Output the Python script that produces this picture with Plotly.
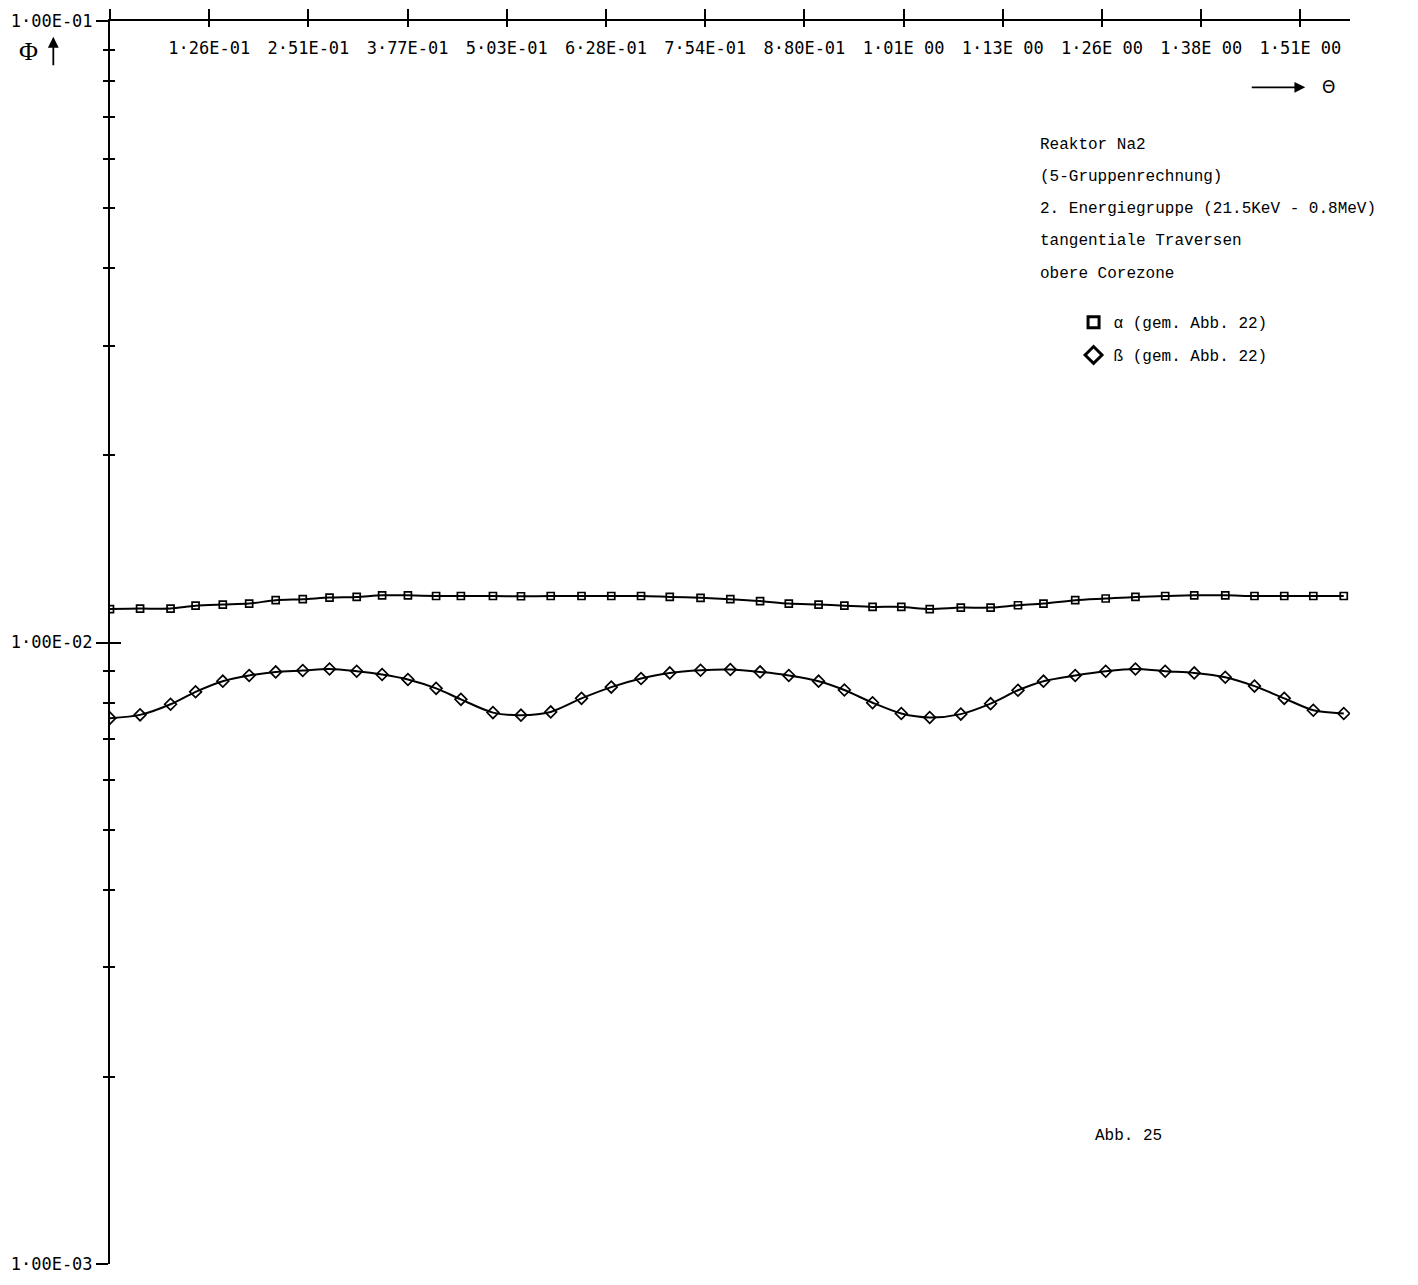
import math
import plotly.graph_objects as go

# ---------------- data ----------------
theta = [0.0, 0.0381, 0.0767, 0.1084, 0.1429, 0.1763, 0.2099, 0.2442, 0.2781, 0.3125,
         0.3447, 0.3774, 0.4131, 0.4445, 0.4851, 0.5206, 0.5583, 0.5973, 0.6350, 0.6727,
         0.7091, 0.7481, 0.7858, 0.8235, 0.8599, 0.8976, 0.9303, 0.9660, 1.0024, 1.0384,
         1.0778, 1.1155, 1.1502, 1.1825, 1.2227, 1.2613, 1.2990, 1.3367, 1.3735, 1.4128,
         1.4498, 1.4875, 1.5243, 1.5629]

phi_alpha = [1.132e-2, 1.134e-2, 1.134e-2, 1.146e-2, 1.151e-2, 1.155e-2, 1.170e-2, 1.174e-2, 1.181e-2, 1.184e-2,
             1.191e-2, 1.191e-2, 1.188e-2, 1.188e-2, 1.188e-2, 1.187e-2, 1.188e-2, 1.188e-2, 1.188e-2, 1.188e-2,
             1.184e-2, 1.180e-2, 1.174e-2, 1.166e-2, 1.155e-2, 1.151e-2, 1.146e-2, 1.141e-2, 1.141e-2, 1.132e-2,
             1.138e-2, 1.138e-2, 1.148e-2, 1.155e-2, 1.170e-2, 1.177e-2, 1.184e-2, 1.188e-2, 1.191e-2, 1.191e-2,
             1.188e-2, 1.188e-2, 1.188e-2, 1.188e-2]

phi_beta = [7.555e-3, 7.648e-3, 7.955e-3, 8.330e-3, 8.665e-3, 8.850e-3, 8.968e-3, 9.014e-3, 9.067e-3, 8.991e-3,
            8.882e-3, 8.720e-3, 8.437e-3, 8.100e-3, 7.712e-3, 7.640e-3, 7.732e-3, 8.130e-3, 8.477e-3, 8.750e-3,
            8.935e-3, 9.023e-3, 9.047e-3, 8.968e-3, 8.850e-3, 8.665e-3, 8.386e-3, 8.000e-3, 7.686e-3, 7.575e-3,
            7.669e-3, 7.972e-3, 8.377e-3, 8.665e-3, 8.850e-3, 8.991e-3, 9.067e-3, 8.991e-3, 8.935e-3, 8.794e-3,
            8.508e-3, 8.130e-3, 7.780e-3, 7.686e-3]

x_tickvals = [k * math.pi / 25 for k in range(13)]
x_ticktext = ["", "1·26E-01", "2·51E-01", "3·77E-01", "5·03E-01", "6·28E-01", "7·54E-01",
              "8·80E-01", "1·01E 00", "1·13E 00", "1·26E 00", "1·38E 00", "1·51E 00"]
y_tickvals = [1e-3, 1e-2, 1e-1]
y_ticktext = ["1·00E-03", "1·00E-02", "1·00E-01"]
y_minor = [m * 10.0 ** e for e in (-3, -2) for m in range(2, 10)]

legend_names = ["α (gem. Abb. 22)", "ß (gem. Abb. 22)"]
info_lines = ["Reaktor Na2", "(5-Gruppenrechnung)", "2. Energiegruppe (21.5KeV - 0.8MeV)",
              "tangentiale Traversen", "obere Corezone"]
fig_label = "Abb. 25"

# ---------------- layout geometry ----------------
W, H = 1418, 1285
ML, MR, MT, MB = 103, 68, 19, 11
PW, PH = W - ML - MR, H - MT - MB

def px(xp):
    return (xp - ML) / PW

def py(yp):
    return (H - MB - yp) / PH

TICKFONT = dict(family="DejaVu Sans Mono", size=17, color="black")
TXTFONT = dict(family="Liberation Mono", size=16, color="black")

fig = go.Figure()
fig.add_trace(go.Scatter(x=theta, y=phi_alpha, mode="lines+markers", showlegend=False,
                         line=dict(color="black", width=2, shape="spline", smoothing=0.8),
                         marker=dict(symbol="square-open", size=7, color="black", line=dict(width=1.7))))
fig.add_trace(go.Scatter(x=theta, y=phi_beta, mode="lines+markers", showlegend=False,
                         line=dict(color="black", width=2, shape="spline", smoothing=0.8),
                         marker=dict(symbol="diamond-open", size=9, color="black", line=dict(width=1.7))))
# legend entries (markers only, like the original key); placed on the overlay axes
fig.add_trace(go.Scatter(x=[None], y=[None], mode="markers", name=legend_names[0], legendgroup="a",
                         xaxis="x2", yaxis="y2",
                         marker=dict(symbol="square-open", size=11, color="black", line=dict(width=3))))
fig.add_trace(go.Scatter(x=[None], y=[None], mode="markers", name=legend_names[1], legendgroup="b",
                         xaxis="x2", yaxis="y2",
                         marker=dict(symbol="diamond-open", size=13, color="black", line=dict(width=3))))

xr = [0, math.pi / 2]
yr = [-3.0002, -0.9998]
fig.update_layout(
    width=W, height=H,
    margin=dict(l=ML, r=MR, t=MT, b=MB),
    paper_bgcolor="white", plot_bgcolor="white",
    showlegend=True,
    legend=dict(x=px(1072), y=py(306), xanchor="left", yanchor="top",
                font=TXTFONT, bgcolor="rgba(0,0,0,0)", tracegroupgap=9,
                itemwidth=30),
    xaxis=dict(range=xr, side="top", anchor="y", showgrid=False, zeroline=False,
               showline=True, linecolor="black", linewidth=2,
               tickmode="array", tickvals=x_tickvals, ticktext=x_ticktext,
               ticks="outside", ticklen=10, tickwidth=2, tickcolor="black",
               ticklabelposition="inside", ticklabelstandoff=22, tickfont=TICKFONT,
               ticklabeloverflow="allow"),
    xaxis2=dict(range=xr, side="top", anchor="y", overlaying="x", showgrid=False, zeroline=False,
                showline=False, tickmode="array", tickvals=x_tickvals,
                ticks="inside", ticklen=6, tickwidth=2, tickcolor="black", showticklabels=False),
    yaxis=dict(type="log", range=yr, side="left", anchor="x", showgrid=False, zeroline=False,
               showline=True, linecolor="black", linewidth=2,
               tickmode="array", tickvals=y_tickvals, ticktext=y_ticktext,
               ticks="outside", ticklen=12, tickwidth=2, tickcolor="black", tickfont=TICKFONT,
               ticklabeloverflow="allow",
               minor=dict(tickmode="array", tickvals=y_minor, ticks="outside", ticklen=5,
                          tickwidth=2, tickcolor="black", showgrid=False)),
    yaxis2=dict(type="log", range=yr, side="left", anchor="x", overlaying="y", showgrid=False,
                zeroline=False, showline=False, tickmode="array", tickvals=y_tickvals,
                ticks="inside", ticklen=11, tickwidth=2, tickcolor="black", showticklabels=False,
                minor=dict(tickmode="array", tickvals=y_minor, ticks="inside", ticklen=5,
                           tickwidth=2, tickcolor="black", showgrid=False)),
)

ann = []
# axis titles
ann.append(dict(x=px(21), y=py(50), xref="paper", yref="paper", text="Φ", showarrow=False,
                xanchor="center", yanchor="middle",
                font=dict(family="Liberation Serif", size=26, color="black")))
ann.append(dict(x=px(46), y=py(35), ax=0, ay=30, xref="paper", yref="paper", text="",
                showarrow=True, arrowhead=2, arrowsize=1.2, arrowwidth=1.8, arrowcolor="black"))
ann.append(dict(x=px(1305), y=py(86), ax=-55, ay=0, xref="paper", yref="paper", text="",
                showarrow=True, arrowhead=2, arrowsize=1.2, arrowwidth=1.8, arrowcolor="black"))
ann.append(dict(x=px(1328), y=py(86), xref="paper", yref="paper", text="Θ", showarrow=False,
                xanchor="center", yanchor="middle",
                font=dict(family="DejaVu Sans", size=17, color="black")))
# info block
for i, line in enumerate(info_lines):
    ann.append(dict(x=px(1036), y=py(144 + 32.5 * i), xref="paper", yref="paper", text=line,
                    showarrow=False, xanchor="left", yanchor="middle", font=TXTFONT))
ann.append(dict(x=px(1092), y=py(1145), xref="paper", yref="paper", text=fig_label,
                showarrow=False, xanchor="left", yanchor="middle", font=TXTFONT))
fig.update_layout(annotations=ann)

fig.write_html("out.html")
